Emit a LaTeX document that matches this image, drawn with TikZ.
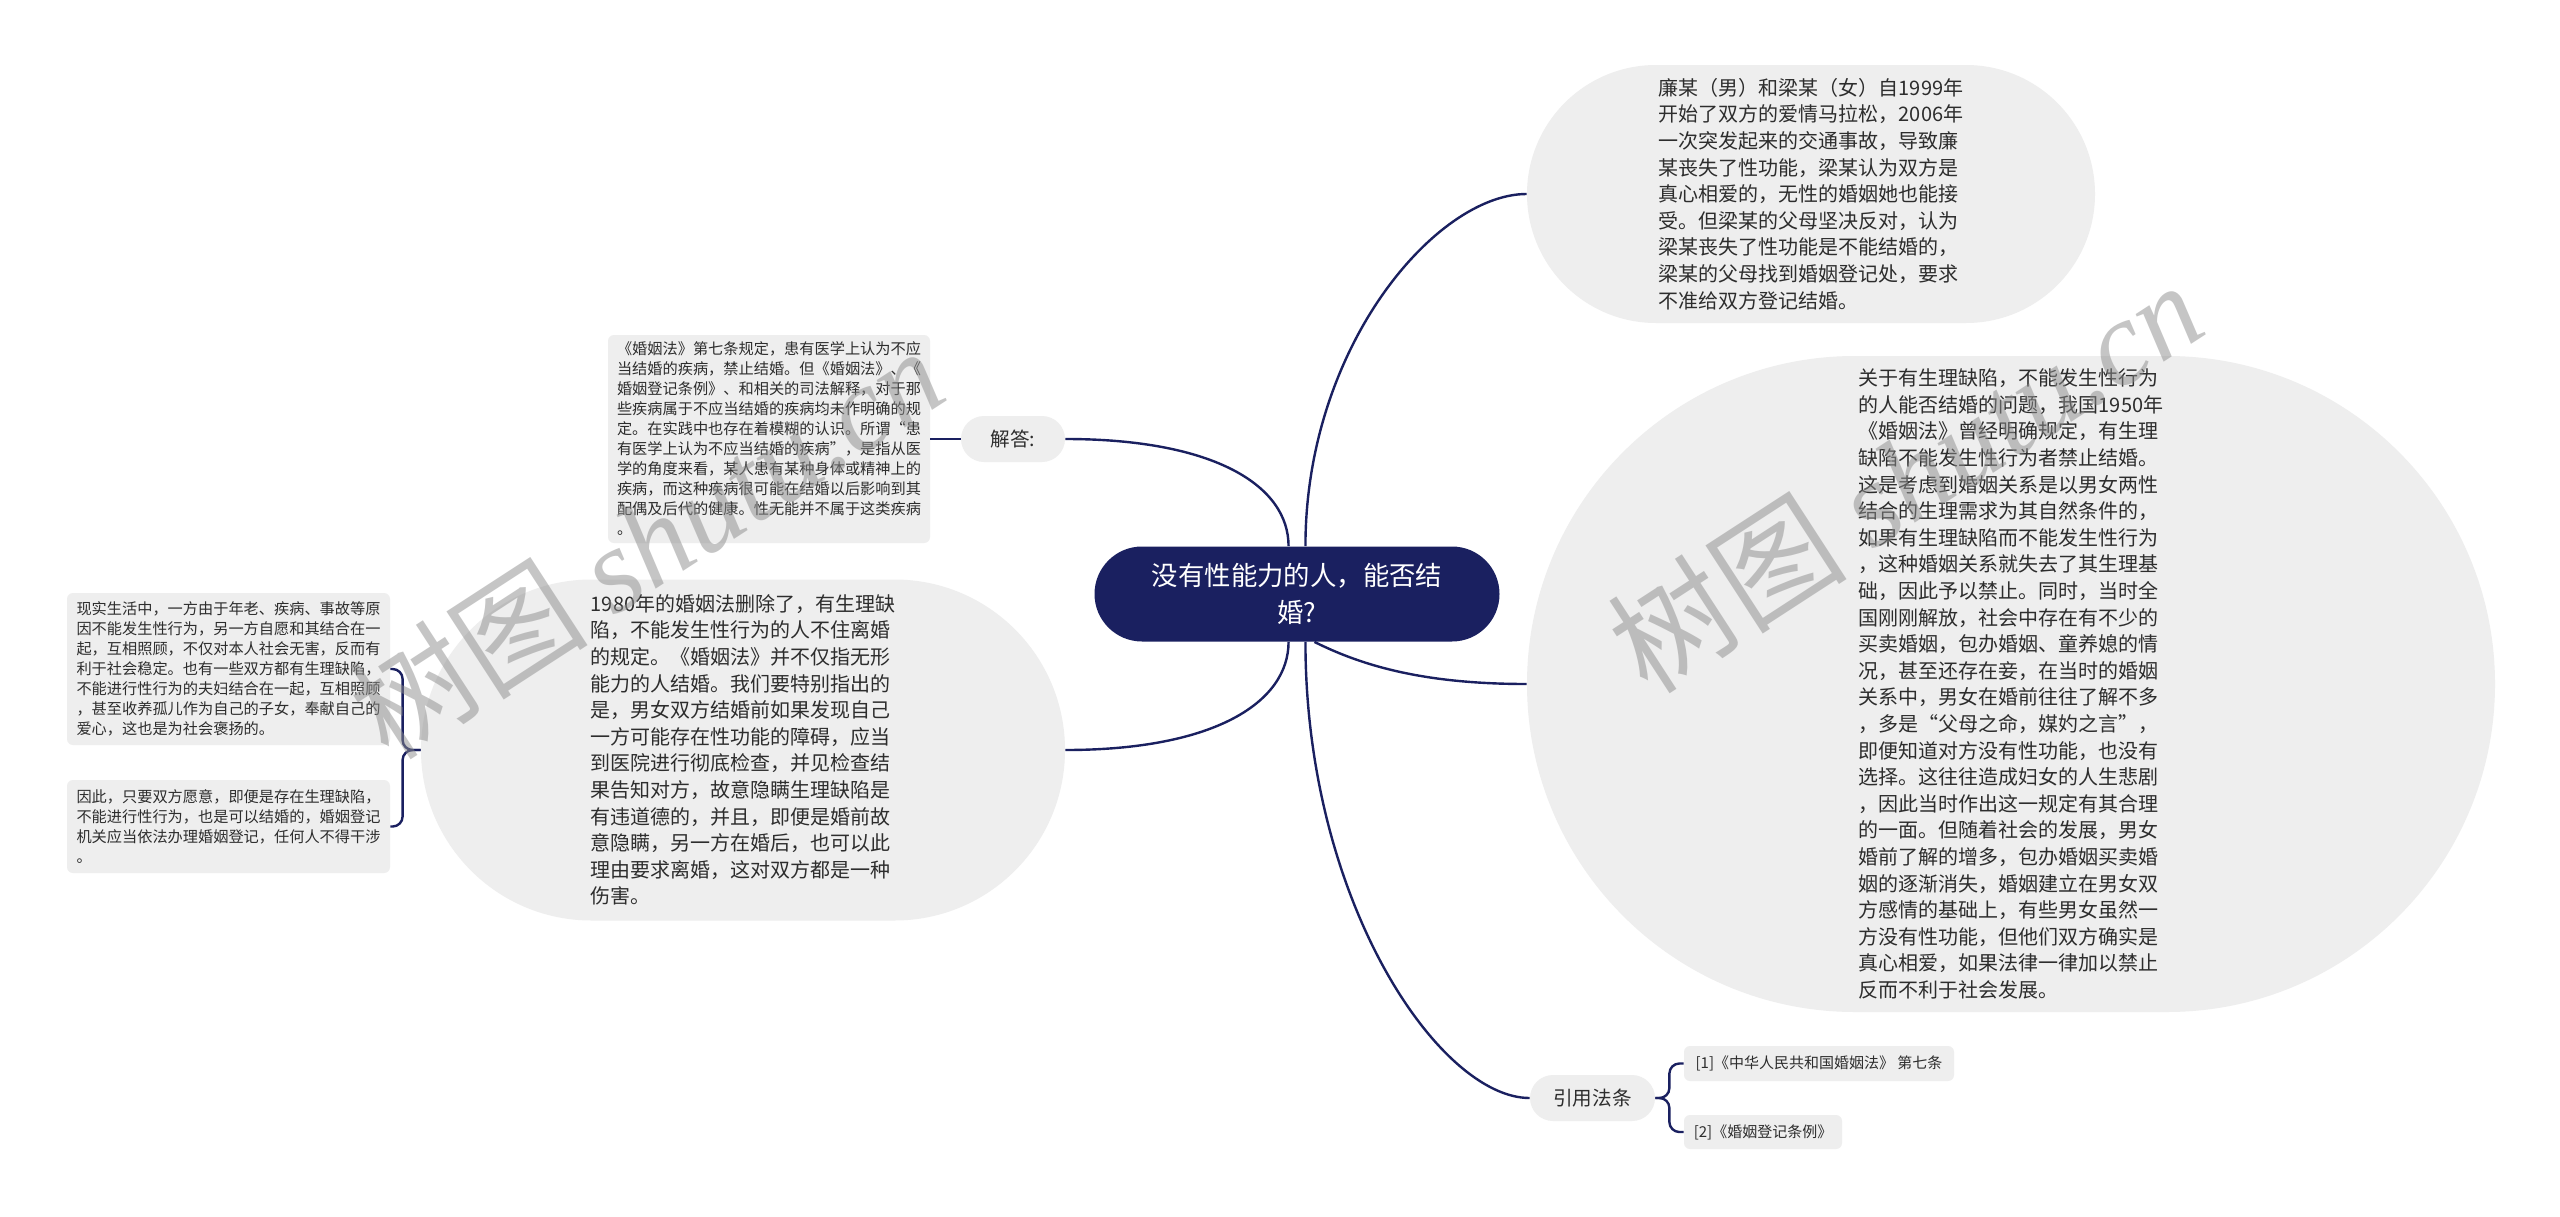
\documentclass[tikz,border=0pt]{standalone}
\usepackage{fontspec}
\setmainfont{Noto Sans CJK SC}
\newfontfamily\wmlatin{Liberation Serif}
\usetikzlibrary{shapes.misc}
\definecolor{navy}{RGB}{26,32,96}
\definecolor{bubblegray}{RGB}{238,238,238}
\definecolor{ink}{RGB}{45,45,45}
\definecolor{wmgray}{RGB}{140,140,140}
\begin{document}
\begin{tikzpicture}[x=0.5pt, y=-0.5pt,
    link/.style={draw=navy, line width=1.2pt},
    topic/.style={rounded rectangle, fill=navy, text=white, inner sep=0pt, align=center, font=\fontsize{13.2}{18.5}\selectfont},
    bubble/.style={rounded rectangle, fill=bubblegray, text=ink, inner sep=0pt, align=left, font=\fontsize{10}{13.3}\selectfont},
    tag/.style={rounded rectangle, fill=bubblegray, text=ink, inner sep=0pt, font=\fontsize{9.8}{12}\selectfont},
    leaf/.style={rectangle, rounded corners=3pt, fill=bubblegray, text=ink, inner sep=0pt, align=left, font=\fontsize{7.6}{10}\selectfont},
    wm/.style={text=wmgray, opacity=0.5, font=\fontsize{60}{60}\selectfont}]
    \fill[white] (0,0) rectangle (2560,1216);
    \useasboundingbox (0,0) rectangle (2560,1216);
    \node[topic, minimum width=202.5pt, minimum height=47.5pt] (root) at (1297,594) {没有性能力的人，能否结\\婚?};
    \node[bubble, minimum width=284pt, minimum height=129pt] (story) at (1811,194) {廉某（男）和梁某（女）自1999年\\开始了双方的爱情马拉松，2006年\\一次突发起来的交通事故，导致廉\\某丧失了性功能，梁某认为双方是\\真心相爱的，无性的婚姻她也能接\\受。但梁某的父母坚决反对，认为\\梁某丧失了性功能是不能结婚的，\\梁某的父母找到婚姻登记处，要求\\不准给双方登记结婚。};
    \node[bubble, minimum width=484pt, minimum height=328pt] (history) at (2011,684) {关于有生理缺陷，不能发生性行为\\的人能否结婚的问题，我国1950年\\《婚姻法》曾经明确规定，有生理\\缺陷不能发生性行为者禁止结婚。\\这是考虑到婚姻关系是以男女两性\\结合的生理需求为其自然条件的，\\如果有生理缺陷而不能发生性行为\\，这种婚姻关系就失去了其生理基\\础，因此予以禁止。同时，当时全\\国刚刚解放，社会中存在有不少的\\买卖婚姻，包办婚姻、童养媳的情\\况，甚至还存在妾，在当时的婚姻\\关系中，男女在婚前往往了解不多\\，多是“父母之命，媒妁之言”，\\即便知道对方没有性功能，也没有\\选择。这往往造成妇女的人生悲剧\\，因此当时作出这一规定有其合理\\的一面。但随着社会的发展，男女\\婚前了解的增多，包办婚姻买卖婚\\姻的逐渐消失，婚姻建立在男女双\\方感情的基础上，有些男女虽然一\\方没有性功能，但他们双方确实是\\真心相爱，如果法律一律加以禁止\\反而不利于社会发展。};
    \node[bubble, minimum width=322pt, minimum height=170.5pt] (law1980) at (743,750) {1980年的婚姻法删除了，有生理缺\\陷，不能发生性行为的人不住离婚\\的规定。《婚姻法》并不仅指无形\\能力的人结婚。我们要特别指出的\\是，男女双方结婚前如果发现自己\\一方可能存在性功能的障碍，应当\\到医院进行彻底检查，并见检查结\\果告知对方，故意隐瞒生理缺陷是\\有违道德的，并且，即便是婚前故\\意隐瞒，另一方在婚后，也可以此\\理由要求离婚，这对双方都是一种\\伤害。};
    \node[tag, minimum width=52pt, minimum height=23pt] (answer) at (1013,439) {解答:};
    \node[leaf, minimum width=161pt, minimum height=104pt] (rule) at (769,439) {《婚姻法》第七条规定，患有医学上认为不应\\当结婚的疾病，禁止结婚。但《婚姻法》、《\\婚姻登记条例》、和相关的司法解释，对于那\\些疾病属于不应当结婚的疾病均未作明确的规\\定。在实践中也存在着模糊的认识。所谓“患\\有医学上认为不应当结婚的疾病”，是指从医\\学的角度来看，某人患有某种身体或精神上的\\疾病，而这种疾病很可能在结婚以后影响到其\\配偶及后代的健康。性无能并不属于这类疾病\\。};
    \node[leaf, minimum width=161.5pt, minimum height=76pt] (life) at (228.5,669) {现实生活中，一方由于年老、疾病、事故等原\\因不能发生性行为，另一方自愿和其结合在一\\起，互相照顾，不仅对本人社会无害，反而有\\利于社会稳定。也有一些双方都有生理缺陷，\\不能进行性行为的夫妇结合在一起，互相照顾\\，甚至收养孤儿作为自己的子女，奉献自己的\\爱心，这也是为社会褒扬的。};
    \node[leaf, minimum width=161.5pt, minimum height=46.5pt] (consent) at (228.5,826.5) {因此，只要双方愿意，即便是存在生理缺陷，\\不能进行性行为，也是可以结婚的，婚姻登记\\机关应当依法办理婚姻登记，任何人不得干涉\\。};
    \node[tag, minimum width=62.5pt, minimum height=23pt] (cite) at (1592.5,1098) {引用法条};
    \node[leaf, minimum width=135pt, minimum height=17.5pt, font=\fontsize{7.5}{9}\selectfont] (ref1) at (1819,1063.5) {[1]《中华人民共和国婚姻法》 第七条};
    \node[leaf, minimum width=79pt, minimum height=17pt, font=\fontsize{7.5}{9}\selectfont] (ref2) at (1763,1132) {[2]《婚姻登记条例》};
    \draw[link] (root.80) .. controls +(0,-200) and +(-90,0) .. (story.west);
    \draw[link] (root.-70) .. controls +(50,25) and +(-100,0) .. (history.west);
    \draw[link] (root.-80) .. controls +(0,260) and +(-90,0) .. (cite.west);
    \draw[link] (root.100) .. controls +(0,-60) and +(150,0) .. (answer.east);
    \draw[link] (root.-100) .. controls +(0,60) and +(150,0) .. (law1980.east);
    \draw[link] (answer.west) -- (rule.east);
    \foreach \n in {life,consent}
    {
        \draw[link, rounded corners=5pt] (law1980.west) -- ++(-18,0) |- (\n.east);
    }
    \foreach \n in {ref1,ref2}
    {
        \draw[link, rounded corners=5pt] (cite.east) -- ++(14,0) |- (\n.west);
    }
    \node[wm, rotate=33] (mark1) at (646,542) {树图 {\wmlatin\itshape shutu.cn}};
    \node[wm, rotate=33] (mark2) at (1905,476) {树图 {\wmlatin\itshape shutu.cn}};
\end{tikzpicture}
\end{document}
